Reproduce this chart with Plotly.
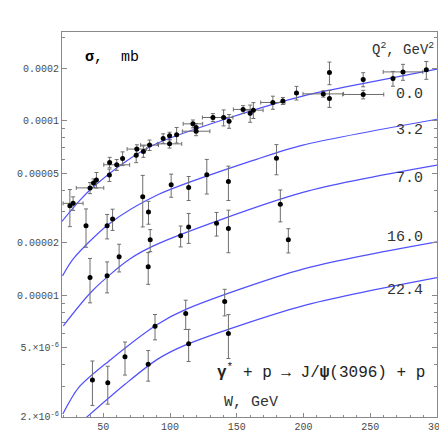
import plotly.graph_objects as go

# Q^2 = 0.0 (photoproduction) data
w_00 = [24.9, 27.3, 40.0, 42.6, 44.8, 54.5, 54.7, 60.0, 64.4, 74.6, 75.1, 80.0, 84.6, 94.8,
        99.6, 99.6, 104.9, 117.1, 119.5, 119.5, 132.1, 140.1, 144.2, 154.7, 160.0, 162.4,
        177.0, 184.5, 194.7, 214.8, 219.4, 219.4, 244.7, 244.7, 267.0, 274.5, 292.0]
s_00 = [3.25e-5, 3.36e-5, 4.12e-5, 4.39e-5, 4.58e-5, 4.88e-5, 5.77e-5, 5.59e-5, 6.08e-5, 6.35e-5,
        6.88e-5, 6.67e-5, 7.25e-5, 7.92e-5, 8.19e-5, 7.37e-5, 8.30e-5, 9.60e-5, 9.15e-5, 8.71e-5,
        1.044e-4, 1.044e-4, 9.95e-5, 1.161e-4, 1.105e-4, 1.150e-4, 1.273e-4, 1.30e-4, 1.445e-4,
        1.426e-4, 1.89e-4, 1.343e-4, 1.726e-4, 1.415e-4, 1.748e-4, 1.906e-4, 1.958e-4]
e_00 = [0.78e-5, 0.3e-5, 0.3e-5, 0.25e-5, 0.47e-5, 0.4e-5, 0.4e-5, 0.4e-5, 0.55e-5, 0.6e-5,
        0.4e-5, 0.5e-5, 0.5e-5, 0.5e-5, 0.4e-5, 0.4e-5, 0.85e-5, 0.5e-5, 0.5e-5, 0.5e-5,
        0.55e-5, 1.1e-5, 0.9e-5, 0.6e-5, 1.25e-5, 1.2e-5, 1.1e-5, 0.6e-5, 1.3e-5,
        0.6e-5, 2.8e-5, 1.5e-5, 1.6e-5, 0.8e-5, 1.7e-5, 2.0e-5, 2.3e-5]
ex_00 = [0, 7.5, 10.3, 0, 0, 0, 0, 9.7, 0, 0, 7.3, 0, 6.7, 0,
         0, 9.1, 0, 7.3, 0, 10.3, 7.9, 7.0, 0, 7.3, 0, 7.3,
         9.1, 0, 0, 15.2, 0, 0, 0, 15.4, 0, 14.8, 0]

w_32 = [37.0, 52.8, 56.9, 79.5, 83.8, 100.8, 113.9, 127.5, 143.7, 179.7]
s_32 = [2.50e-5, 2.50e-5, 2.73e-5, 3.66e-5, 3.00e-5, 4.29e-5, 4.14e-5, 4.90e-5, 4.49e-5, 6.10e-5]
e_32 = [0.62e-5, 0.4e-5, 0.38e-5, 1.2e-5, 0.45e-5, 0.65e-5, 0.65e-5, 1.1e-5, 1.0e-5, 1.2e-5]

w_70 = [40.0, 52.8, 61.8, 83.6, 85.1, 107.9, 113.9, 134.8, 143.7, 182.6, 188.6]
s_70 = [1.263e-5, 1.29e-5, 1.658e-5, 1.453e-5, 2.075e-5, 2.19e-5, 2.46e-5, 2.58e-5, 2.41e-5, 3.32e-5, 2.075e-5]
e_70 = [0.36e-5, 0.26e-5, 0.3e-5, 0.3e-5, 0.3e-5, 0.3e-5, 0.48e-5, 0.4e-5, 0.66e-5, 0.69e-5, 0.33e-5]

w_160 = [41.8, 66.2, 88.7, 111.7, 140.9]
s_160 = [3.26e-6, 4.43e-6, 6.64e-6, 7.85e-6, 9.2e-6]
e_160 = [0.93e-6, 0.95e-6, 1.1e-6, 1.5e-6, 1.6e-6]

w_224 = [53.3, 83.6, 113.9, 143.7]
s_224 = [3.14e-6, 4.01e-6, 5.26e-6, 6.03e-6]
e_224 = [0.77e-6, 0.8e-6, 1.1e-6, 1.7e-6]

# model curves
cw_00 = [19, 32, 42, 66, 90, 145, 200, 250, 300]
cs_00 = [2.65e-5, 3.47e-5, 4.14e-5, 5.79e-5, 7.4e-5, 1.044e-4, 1.39e-4, 1.667e-4, 1.98e-4]
cw_32 = [19.4, 27.3, 54, 90.4, 165.3, 199.5, 300]
cs_32 = [1.29e-5, 1.61e-5, 2.55e-5, 3.75e-5, 6.03e-5, 7.25e-5, 1.02e-4]
cw_70 = [20, 41.8, 69.8, 90.4, 199.5, 300]
cs_70 = [6.67e-6, 1.06e-5, 1.61e-5, 1.96e-5, 3.88e-5, 5.56e-5]
cw_160 = [19.6, 31.3, 54, 90.4, 112.2, 199.5, 300]
cs_160 = [2.08e-6, 2.94e-6, 4.18e-6, 6.79e-6, 8.31e-6, 1.41e-5, 2.02e-5]
cw_224 = [37, 66.2, 90.4, 112.2, 199.5, 300]
cs_224 = [1.98e-6, 3.08e-6, 4.28e-6, 5.2e-6, 8.68e-6, 1.26e-5]

q2_labels = ["0.0", "3.2", "7.0", "16.0", "22.4"]

y_ticks = [2e-6, 5e-6, 1e-5, 2e-5, 5e-5, 1e-4, 2e-4]
y_ticktext = ["2.×10<sup>-6</sup>", "5.×10<sup>-6</sup>", "0.00001", "0.00002",
              "0.00005", "0.0001", "0.0002"]
y_minor = [3e-6, 4e-6, 6e-6, 7e-6, 8e-6, 9e-6, 3e-5, 4e-5, 6e-5, 7e-5, 8e-5, 9e-5, 3e-4]
x_ticks = [50, 100, 150, 200, 250, 300]
x_minor = [20, 30, 40, 60, 70, 80, 90, 110, 120, 130, 140, 160, 170, 180, 190,
           210, 220, 230, 240, 260, 270, 280, 290]

FONT = "Liberation Mono, Courier New, monospace"
BLUE = "#5050ff"
ERR = "#6e6e6e"
TICKC = "#4a4a4a"

fig = go.Figure()

for cw, cs in [(cw_00, cs_00), (cw_32, cs_32), (cw_70, cs_70), (cw_160, cs_160), (cw_224, cs_224)]:
    fig.add_trace(go.Scatter(x=cw, y=cs, mode="lines",
                             line=dict(color=BLUE, width=1.2, shape="spline", smoothing=0.8),
                             showlegend=False, hoverinfo="skip"))

fig.add_trace(go.Scatter(x=w_00, y=s_00, mode="markers", marker=dict(color="black", size=5),
                         error_y=dict(type="data", array=e_00, color=ERR, thickness=1, width=2),
                         error_x=dict(type="data", array=ex_00, color=ERR, thickness=1, width=2),
                         showlegend=False))
for w, s, e in [(w_32, s_32, e_32), (w_70, s_70, e_70), (w_160, s_160, e_160), (w_224, s_224, e_224)]:
    fig.add_trace(go.Scatter(x=w, y=s, mode="markers", marker=dict(color="black", size=5),
                             error_y=dict(type="data", array=e, color=ERR, thickness=1, width=2),
                             showlegend=False))

label_y = [0.838, 0.743, 0.619, 0.4675, 0.3286]
for txt, yy in zip(q2_labels, label_y):
    fig.add_annotation(text=txt, x=0.968, y=yy, xref="paper", yref="paper", xanchor="right",
                       yanchor="middle", showarrow=False, font=dict(family=FONT, size=15, color="#333"))

fig.add_annotation(text="<b>σ</b>,  mb", x=0.057, y=0.935, xref="paper", yref="paper", xanchor="left",
                   yanchor="middle", showarrow=False, font=dict(family=FONT, size=15, color="black"))
fig.add_annotation(text="Q<sup>2</sup>, GeV<sup>2</sup>", x=0.998, y=0.955, xref="paper", yref="paper",
                   xanchor="right", yanchor="middle", showarrow=False,
                   font=dict(family=FONT, size=14, color="#333"))
fig.add_annotation(text="<b>γ</b><sup>*</sup> + p → J/<b>ψ</b>(3096) + p", x=0.973, y=0.119,
                   xref="paper", yref="paper", xanchor="right", yanchor="middle", showarrow=False,
                   font=dict(family=FONT, size=16, color="#222"))
fig.add_annotation(text="W, GeV", x=0.503, y=0.038, xref="paper", yref="paper", xanchor="center",
                   yanchor="middle", showarrow=False, font=dict(family=FONT, size=15, color="#333"))

fig.update_layout(
    width=447, height=447,
    margin=dict(l=52, r=9, t=24, b=38),
    paper_bgcolor="white", plot_bgcolor="white",
    font=dict(family=FONT, size=10, color=TICKC),
    xaxis=dict(range=[19, 300], tickmode="array", tickvals=x_ticks, ticks="inside", ticklen=4,
               tickcolor="#888", showline=True, linecolor="#888", linewidth=1, mirror=True,
               showgrid=False, zeroline=False, tickfont=dict(family=FONT, size=10, color=TICKC),
               minor=dict(tickmode="array", tickvals=x_minor, ticks="inside", ticklen=2, tickcolor="#888",
                          showgrid=False)),
    yaxis=dict(type="log", range=[-5.699, -3.491], tickmode="array", tickvals=y_ticks, ticktext=y_ticktext,
               ticks="inside", ticklen=5, tickcolor="#888", showline=True, linecolor="#888", linewidth=1,
               mirror="ticks", showgrid=False, zeroline=False,
               tickfont=dict(family=FONT, size=10, color=TICKC),
               minor=dict(tickmode="array", tickvals=y_minor, ticks="inside", ticklen=3, tickcolor="#888",
                          showgrid=False)),
)

fig.write_html("out.html")
